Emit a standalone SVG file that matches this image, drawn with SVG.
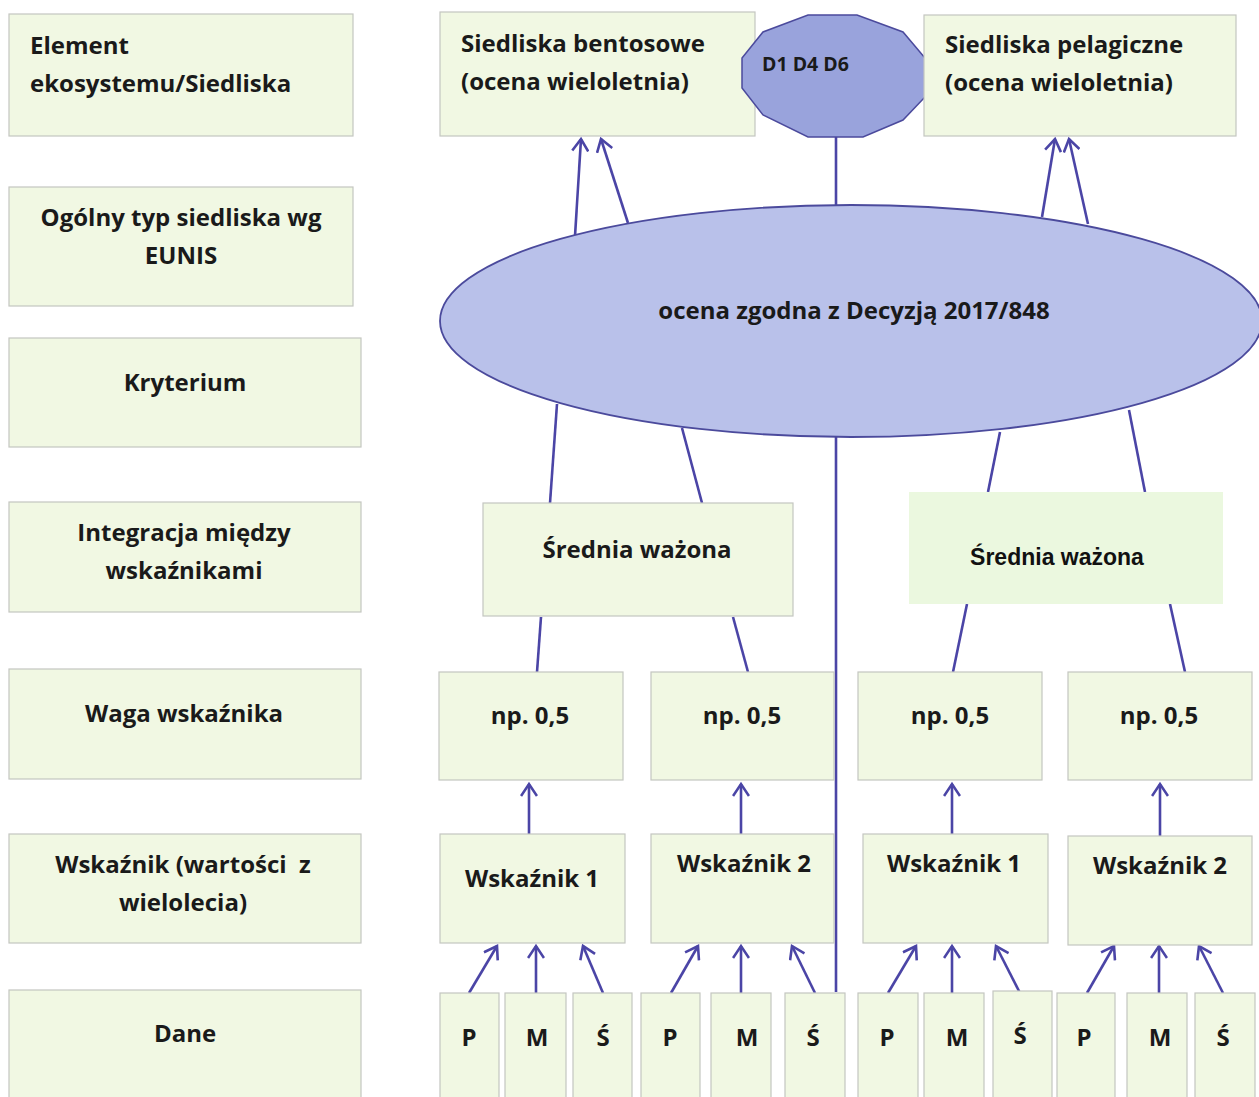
<svg xmlns="http://www.w3.org/2000/svg" width="1259" height="1097" viewBox="0 0 1259 1097">
<style>
.box{fill:#f1f8e3;stroke:#c4c6c0;stroke-width:1.2}
.t{font-family:"Open Sans",Lato,sans-serif;font-weight:bold;font-size:24px;fill:#1a1a1a}
.c{text-anchor:middle}
.ln{stroke:#4b45a6;stroke-width:2.6;fill:none}
.ar{stroke:#4b45a6;stroke-width:2.6;fill:none;marker-end:url(#ah)}
</style>
<defs>
<marker id="ah" markerWidth="16" markerHeight="18" refX="13" refY="9" orient="auto" markerUnits="userSpaceOnUse" viewBox="0 0 16 18">
<path d="M1,1 L13,9 L1,17" fill="none" stroke="#4b45a6" stroke-width="2.6"/>
</marker>
</defs>
<rect width="1259" height="1097" fill="#ffffff"/>

<g id="connectors">
<line class="ln" x1="836" y1="136" x2="836" y2="206"/>
<line class="ln" x1="836" y1="436" x2="836" y2="992"/>
<line class="ar" x1="575" y1="236" x2="581" y2="139"/>
<line class="ar" x1="628" y1="223" x2="601" y2="139"/>
<line class="ar" x1="1042" y1="217" x2="1055" y2="139"/>
<line class="ar" x1="1088" y1="224" x2="1069" y2="139"/>
<line class="ln" x1="557" y1="404" x2="550" y2="503"/>
<line class="ln" x1="682" y1="428" x2="702" y2="503"/>
<line class="ln" x1="1000" y1="432" x2="988" y2="492"/>
<line class="ln" x1="1129" y1="410" x2="1145" y2="492"/>
<line class="ln" x1="541" y1="617" x2="537" y2="672"/>
<line class="ln" x1="733" y1="617" x2="748" y2="672"/>
<line class="ln" x1="967" y1="604" x2="953" y2="672"/>
<line class="ln" x1="1170" y1="604" x2="1185" y2="672"/>
<line class="ar" x1="529" y1="834" x2="529" y2="784"/>
<line class="ar" x1="741" y1="834" x2="741" y2="784"/>
<line class="ar" x1="952" y1="834" x2="952" y2="784"/>
<line class="ar" x1="1160" y1="836" x2="1160" y2="784"/>
<line class="ar" x1="469" y1="993" x2="497" y2="946"/>
<line class="ar" x1="536" y1="993" x2="536" y2="946"/>
<line class="ar" x1="603" y1="993" x2="583" y2="946"/>
<line class="ar" x1="671" y1="993" x2="698" y2="946"/>
<line class="ar" x1="741" y1="993" x2="741" y2="946"/>
<line class="ar" x1="815" y1="993" x2="792" y2="946"/>
<line class="ar" x1="888" y1="993" x2="916" y2="946"/>
<line class="ar" x1="952" y1="993" x2="952" y2="946"/>
<line class="ar" x1="1020" y1="993" x2="996" y2="946"/>
<line class="ar" x1="1087" y1="993" x2="1114" y2="946"/>
<line class="ar" x1="1159" y1="993" x2="1159" y2="946"/>
<line class="ar" x1="1223" y1="993" x2="1199" y2="946"/>
</g>

<g id="l1"><rect class="box" x="9" y="14" width="344" height="122"/><text class="t" x="30" y="54">Element</text><text class="t" x="30" y="92">ekosystemu/Siedliska</text></g>
<g id="l2"><rect class="box" x="9" y="187" width="344" height="119"/><text class="t c" x="181" y="226">Ogólny typ siedliska wg</text><text class="t c" x="181" y="264">EUNIS</text></g>
<g id="l3"><rect class="box" x="9" y="338" width="352" height="109"/><text class="t c" x="185" y="391">Kryterium</text></g>
<g id="l4"><rect class="box" x="9" y="502" width="352" height="110"/><text class="t c" x="184" y="541">Integracja między</text><text class="t c" x="184" y="579">wskaźnikami</text></g>
<g id="l5"><rect class="box" x="9" y="669" width="352" height="110"/><text class="t c" x="184" y="722">Waga wskaźnika</text></g>
<g id="l6"><rect class="box" x="9" y="834" width="352" height="109"/><text class="t c" x="183" y="873" xml:space="preserve">Wskaźnik (wartości  z</text><text class="t c" x="183" y="911">wielolecia)</text></g>
<g id="l7"><rect class="box" x="9" y="990" width="352" height="110"/><text class="t c" x="185" y="1042">Dane</text></g>

<g id="bent"><rect class="box" x="440" y="12" width="315" height="124"/><text class="t" x="461" y="52">Siedliska bentosowe</text><text class="t" x="461" y="90">(ocena wieloletnia)</text></g>
<g id="d146"><polygon points="808,15 857,15 903,32 925,58 925,97 903,120 863,137 808,137 763,115 742,88 742,58 763,32" fill="#99a3dc" stroke="#4b4a9c" stroke-width="1.5"/><text class="t" x="762" y="71" style="font-size:19.5px">D1 D4 D6</text></g>
<g id="pel"><rect class="box" x="924" y="15" width="312" height="121"/><text class="t" x="945" y="53">Siedliska pelagiczne</text><text class="t" x="945" y="91">(ocena wieloletnia)</text></g>

<g id="ocena"><ellipse cx="851" cy="321" rx="411" ry="116" fill="#b9c1ea" stroke="#4b4a9c" stroke-width="1.8"/><text class="t c" x="854" y="319">ocena zgodna z Decyzją 2017/848</text></g>

<g id="sw1"><rect class="box" x="483" y="503" width="310" height="113"/><text class="t c" x="637" y="558">Średnia ważona</text></g>
<g id="sw2"><rect x="909" y="492" width="314" height="112" fill="#ebf8df"/><text class="c" x="1057" y="565" style="font-family:'Liberation Sans',Arial,sans-serif;font-weight:bold;font-size:23px;fill:#111">Średnia ważona</text></g>

<g id="w1"><rect class="box" x="439" y="672" width="184" height="108"/><text class="t c" x="530" y="724">np. 0,5</text></g>
<g id="w2"><rect class="box" x="651" y="672" width="183" height="108"/><text class="t c" x="742" y="724">np. 0,5</text></g>
<g id="w3"><rect class="box" x="858" y="672" width="184" height="108"/><text class="t c" x="950" y="724">np. 0,5</text></g>
<g id="w4"><rect class="box" x="1068" y="672" width="184" height="108"/><text class="t c" x="1159" y="724">np. 0,5</text></g>

<g id="i1"><rect class="box" x="440" y="834" width="185" height="109"/><text class="t c" x="532" y="887">Wskaźnik 1</text></g>
<g id="i2"><rect class="box" x="651" y="834" width="183" height="109"/><text class="t c" x="744" y="872">Wskaźnik 2</text></g>
<g id="i3"><rect class="box" x="863" y="834" width="185" height="109"/><text class="t c" x="954" y="872">Wskaźnik 1</text></g>
<g id="i4"><rect class="box" x="1068" y="836" width="184" height="109"/><text class="t c" x="1160" y="874">Wskaźnik 2</text></g>

<g id="d1"><rect class="box" x="440" y="993" width="59" height="110"/><text class="t c" x="469" y="1046">P</text></g>
<g id="d2"><rect class="box" x="505" y="993" width="61" height="110"/><text class="t c" x="537" y="1046">M</text></g>
<g id="d3"><rect class="box" x="573" y="993" width="59" height="110"/><text class="t c" x="603" y="1046">Ś</text></g>
<g id="d4"><rect class="box" x="641" y="993" width="59" height="110"/><text class="t c" x="670" y="1046">P</text></g>
<g id="d5"><rect class="box" x="711" y="993" width="60" height="110"/><text class="t c" x="747" y="1046">M</text></g>
<g id="d6"><rect class="box" x="785" y="993" width="60" height="110"/><text class="t c" x="813" y="1046">Ś</text></g>
<g id="d7"><rect class="box" x="858" y="993" width="60" height="110"/><text class="t c" x="887" y="1046">P</text></g>
<g id="d8"><rect class="box" x="924" y="993" width="60" height="110"/><text class="t c" x="957" y="1046">M</text></g>
<g id="d9"><rect class="box" x="993" y="991" width="59" height="110"/><text class="t c" x="1020" y="1044">Ś</text></g>
<g id="d10"><rect class="box" x="1057" y="993" width="58" height="110"/><text class="t c" x="1084" y="1046">P</text></g>
<g id="d11"><rect class="box" x="1127" y="993" width="60" height="110"/><text class="t c" x="1160" y="1046">M</text></g>
<g id="d12"><rect class="box" x="1195" y="993" width="60" height="110"/><text class="t c" x="1223" y="1046">Ś</text></g>
</svg>
